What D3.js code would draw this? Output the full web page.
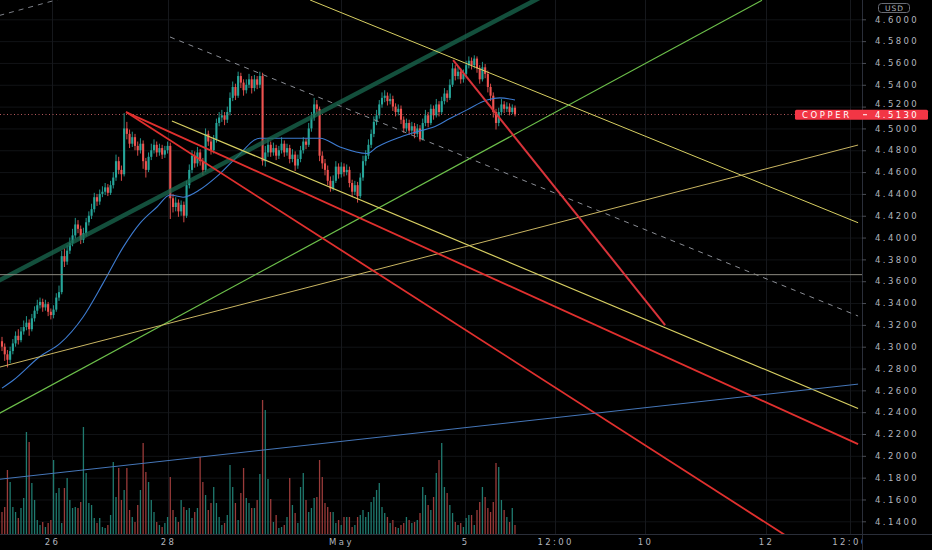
<!DOCTYPE html>
<html><head><meta charset="utf-8">
<script src="https://cdn.jsdelivr.net/npm/d3@7"></script>
<style>
html,body{margin:0;padding:0;background:#000;}
svg{display:block;}
text{font-family:"DejaVu Sans",sans-serif;}
</style></head><body>
<svg id="chart" width="932" height="550"></svg>
<script>
// ---------- data ----------
const opens=[
4.305,4.300,4.293,4.288,4.296,4.303,4.310,4.306,4.314,4.318,
4.322,4.316,4.326,4.333,4.338,4.341,4.336,4.339,4.332,4.329,
4.334,4.345,4.350,4.383,4.378,4.388,4.395,4.402,4.412,4.408,
4.398,4.404,4.414,4.420,4.426,4.437,4.433,4.440,4.442,4.446,
4.441,4.448,4.455,4.470,4.462,4.458,4.500,4.495,4.486,4.492,
4.484,4.480,4.486,4.470,4.462,4.474,4.480,4.485,4.478,4.482,
4.476,4.480,4.484,4.436,4.428,4.432,4.424,4.430,4.420,4.448,
4.462,4.475,4.468,4.478,4.470,4.462,4.495,4.488,4.480,4.490,
4.505,4.510,4.512,4.508,4.515,4.528,4.538,4.530,4.548,4.542,
4.535,4.540,4.545,4.537,4.545,4.540,4.548,4.470,4.478,4.485,
4.478,4.482,4.475,4.480,4.486,4.478,4.482,4.472,4.476,4.466,
4.472,4.480,4.488,4.485,4.500,4.510,4.522,4.518,4.475,4.468,
4.462,4.452,4.445,4.452,4.465,4.458,4.465,4.460,4.462,4.450,
4.442,4.448,4.438,4.455,4.470,4.475,4.485,4.495,4.506,4.512,
4.522,4.528,4.530,4.525,4.527,4.520,4.515,4.518,4.508,4.500,
4.505,4.498,4.502,4.495,4.500,4.490,4.505,4.512,4.505,4.518,
4.512,4.522,4.515,4.525,4.532,4.528,4.540,4.555,4.548,4.552,
4.545,4.550,4.558,4.562,4.558,4.564,4.555,4.545,4.556,4.550,
4.538,4.530,4.515,4.505,4.515,4.522,4.518,4.520,4.515,4.519];
const highs=[
4.309,4.303,4.297,4.300,4.307,4.314,4.316,4.318,4.324,4.328,
4.325,4.330,4.337,4.343,4.345,4.344,4.343,4.341,4.335,4.338,
4.349,4.356,4.388,4.390,4.393,4.400,4.408,4.418,4.416,4.411,
4.409,4.418,4.424,4.431,4.441,4.440,4.444,4.447,4.450,4.449,
4.452,4.460,4.476,4.474,4.466,4.514,4.506,4.499,4.497,4.495,
4.488,4.491,4.489,4.473,4.478,4.486,4.490,4.488,4.486,4.485,
4.484,4.488,4.487,4.440,4.437,4.435,4.434,4.433,4.452,4.467,
4.480,4.479,4.483,4.481,4.473,4.500,4.498,4.491,4.494,4.509,
4.515,4.517,4.515,4.520,4.533,4.543,4.541,4.552,4.551,4.545,
4.545,4.550,4.548,4.549,4.548,4.552,4.551,4.484,4.490,4.488,
4.487,4.485,4.484,4.492,4.489,4.486,4.485,4.481,4.479,4.476,
4.484,4.492,4.491,4.505,4.515,4.528,4.526,4.520,4.479,4.472,
4.466,4.456,4.457,4.470,4.468,4.469,4.468,4.467,4.465,4.453,
4.452,4.451,4.459,4.475,4.480,4.490,4.499,4.511,4.517,4.526,
4.533,4.535,4.533,4.532,4.530,4.523,4.522,4.521,4.511,4.509,
4.508,4.506,4.505,4.504,4.503,4.509,4.517,4.515,4.522,4.521,
4.527,4.525,4.529,4.537,4.535,4.545,4.560,4.558,4.557,4.555,
4.554,4.562,4.566,4.565,4.567,4.566,4.558,4.561,4.559,4.553,
4.541,4.533,4.518,4.519,4.527,4.525,4.524,4.523,4.522,4.521];
const lows=[
4.296,4.287,4.281,4.285,4.293,4.300,4.302,4.304,4.311,4.315,
4.310,4.314,4.323,4.330,4.335,4.332,4.333,4.328,4.325,4.326,
4.332,4.342,4.348,4.373,4.375,4.385,4.392,4.399,4.404,4.394,
4.395,4.401,4.411,4.417,4.423,4.429,4.430,4.437,4.439,4.438,
4.439,4.445,4.452,4.458,4.452,4.456,4.490,4.482,4.483,4.480,
4.475,4.477,4.463,4.455,4.460,4.471,4.477,4.474,4.475,4.472,
4.473,4.477,4.417,4.423,4.424,4.419,4.420,4.414,4.418,4.445,
4.459,4.464,4.465,4.466,4.457,4.460,4.484,4.476,4.477,4.487,
4.502,4.506,4.503,4.505,4.512,4.525,4.526,4.528,4.537,4.530,
4.532,4.537,4.532,4.534,4.536,4.537,4.466,4.465,4.474,4.474,
4.475,4.471,4.472,4.477,4.474,4.475,4.468,4.469,4.461,4.463,
4.469,4.477,4.481,4.483,4.497,4.507,4.513,4.470,4.463,4.457,
4.448,4.442,4.443,4.450,4.454,4.455,4.456,4.457,4.446,4.437,
4.439,4.432,4.436,4.452,4.466,4.472,4.482,4.492,4.503,4.509,
4.519,4.524,4.521,4.522,4.516,4.511,4.512,4.504,4.496,4.497,
4.494,4.495,4.491,4.492,4.488,4.489,4.502,4.501,4.503,4.508,
4.510,4.511,4.513,4.522,4.524,4.526,4.538,4.544,4.545,4.541,
4.542,4.547,4.555,4.554,4.555,4.551,4.541,4.543,4.546,4.533,
4.525,4.510,4.499,4.502,4.512,4.514,4.515,4.512,4.513,4.511];
const closes=[
4.300,4.293,4.288,4.296,4.303,4.310,4.306,4.314,4.318,4.322,
4.316,4.326,4.333,4.338,4.341,4.336,4.339,4.332,4.329,4.334,
4.345,4.350,4.383,4.378,4.388,4.395,4.402,4.412,4.408,4.398,
4.404,4.414,4.420,4.426,4.437,4.433,4.440,4.442,4.446,4.441,
4.448,4.455,4.470,4.462,4.458,4.500,4.495,4.486,4.492,4.484,
4.480,4.486,4.470,4.462,4.474,4.480,4.485,4.478,4.482,4.476,
4.480,4.484,4.436,4.428,4.432,4.424,4.430,4.420,4.448,4.462,
4.475,4.468,4.478,4.470,4.462,4.495,4.488,4.480,4.490,4.505,
4.510,4.512,4.508,4.515,4.528,4.538,4.530,4.548,4.542,4.535,
4.540,4.545,4.537,4.545,4.540,4.548,4.470,4.478,4.485,4.478,
4.482,4.475,4.480,4.486,4.478,4.482,4.472,4.476,4.466,4.472,
4.480,4.488,4.485,4.500,4.510,4.522,4.518,4.475,4.468,4.462,
4.452,4.445,4.452,4.465,4.458,4.465,4.460,4.462,4.450,4.442,
4.448,4.438,4.455,4.470,4.475,4.485,4.495,4.506,4.512,4.522,
4.528,4.530,4.525,4.527,4.520,4.515,4.518,4.508,4.500,4.505,
4.498,4.502,4.495,4.500,4.490,4.505,4.512,4.505,4.518,4.512,
4.522,4.515,4.525,4.532,4.528,4.540,4.555,4.548,4.552,4.545,
4.550,4.558,4.562,4.558,4.564,4.555,4.545,4.556,4.550,4.538,
4.530,4.515,4.505,4.515,4.522,4.518,4.520,4.515,4.519,4.513];
const volumes=[
22,27,64,52,27,22,16,26,36,102,
92,51,34,14,9,12,7,11,14,74,
41,46,11,46,56,34,26,27,26,32,
107,61,31,29,16,11,16,7,6,9,
19,72,37,66,34,44,66,24,17,12,
29,44,91,62,52,34,22,12,9,7,
11,17,57,24,17,12,34,27,24,26,
16,22,26,77,52,39,24,31,47,31,
17,9,11,19,69,47,31,14,41,66,
36,31,26,26,34,60,134,124,55,35,
12,19,6,7,9,17,56,29,21,11,
47,61,34,22,26,36,37,74,57,31,
27,22,22,11,14,9,17,17,17,7,
9,17,19,24,17,22,32,37,44,51,
27,21,17,11,14,7,6,9,11,17,
14,11,12,14,21,47,39,29,24,37,
61,74,91,47,41,29,21,12,9,11,
7,16,19,19,9,24,32,47,37,26,
22,32,71,67,34,24,17,12,26,9];
const maIndex=[0,4,14,21.4,29.8,37.2,44.6,50.8,57.1,61.9,66.7,73,79.2,86.6,95,102.4,110,117.2,124.5,134.5,138.2,146.6,152.9,158.8,165,171.3,178.7,183.4,189];
const maValues=[4.262,4.269,4.291,4.303,4.327,4.358,4.391,4.413,4.428,4.439,4.437,4.444,4.456,4.474,4.491,4.491,4.491,4.491,4.483,4.477,4.483,4.492,4.497,4.501,4.509,4.517,4.526,4.528,4.526];
const priceTicks=[4.14,4.16,4.18,4.20,4.22,4.24,4.26,4.28,4.30,4.32,4.34,4.36,4.38,4.40,4.42,4.44,4.46,4.48,4.50,4.52,4.54,4.56,4.58,4.60];
const timeTickIndex=[18.4,61.2,124.9,170.6,203.8,236.9,281.5,312.4];
const timeTickLabels=["26","28","May","5","12:00","10","12","12:00"];
const symbol="COPPER", lastPrice=4.5130, currency="USD";
// drawings in (bar index, price)
const drawingNames=["dashTop","dashMid","channel","level","yellowTop","lime","olive","yellowDown","redA","redB","redC","blue"];
const drawingStartIdx=[-1,61.9,-5,-5,113.5,-5,-5,62.6,45.7,45.7,166.2,-5];
const drawingStartPrice=[4.6035,4.5838,4.3555,4.366,4.6177,4.2335,4.2786,4.5068,4.515,4.515,4.5627,4.1774];
const drawingEndIdx=[30,315.4,200,320,315.4,280,315.4,315.4,315.4,300,244.3,315.4];
const drawingEndPrice=[4.6245,4.3281,4.6222,4.366,4.4136,4.6174,4.4848,4.2434,4.2107,4.109,4.3198,4.2657];

// ---------- styles ----------
const drawStyle={
  dashTop:{c:"#7d8088",w:1,d:"5,5",o:1},
  dashMid:{c:"#8a8d94",w:1,d:"5,5",o:1},
  channel:{c:"#1a6a50",w:4.5,d:null,o:0.75},
  level:{c:"#8c8a80",w:1,d:null,o:1},
  yellowTop:{c:"#d8cf62",w:1,d:null,o:1},
  lime:{c:"#6cbf4a",w:1.2,d:null,o:1},
  olive:{c:"#c9b562",w:1,d:null,o:1},
  yellowDown:{c:"#d8cf62",w:1.2,d:null,o:1},
  redA:{c:"#e0302e",w:1.8,d:null,o:1},
  redB:{c:"#e0302e",w:1.8,d:null,o:1},
  redC:{c:"#d8333a",w:2,d:null,o:1},
  blue:{c:"#4576b8",w:1,d:null,o:1}
};
const UP="#26a69a", DOWN="#ef5350";
const AXIS_FONT="8.5px", AXIS_LS="2.4px";

const svg=d3.select("#chart");
const W=932,H=550,paneR=862,paneB=534;
svg.append("rect").attr("width",W).attr("height",H).attr("fill","#000");

const x=d3.scaleLinear().domain([0,189]).range([2,515]);
const y=d3.scaleLinear().domain([4.14,4.60]).range([521.3,19.3]);
const v=d3.scaleLinear().domain([0,134]).range([paneB,400]);

const defs=svg.append("defs");
defs.append("clipPath").attr("id","pane").append("rect").attr("x",0).attr("y",0).attr("width",paneR).attr("height",paneB);
defs.append("clipPath").attr("id","taxis").append("rect").attr("x",0).attr("y",paneB).attr("width",paneR).attr("height",H-paneB);

const pane=svg.append("g").attr("clip-path","url(#pane)");
// grid
pane.append("g").selectAll("line").data(priceTicks).join("line")
  .attr("x1",0).attr("x2",paneR).attr("y1",d=>y(d)+0.5).attr("y2",d=>y(d)+0.5)
  .attr("stroke","#111316").attr("stroke-width",1);
pane.append("g").selectAll("line").data(timeTickIndex).join("line")
  .attr("x1",d=>Math.round(x(d))+0.5).attr("x2",d=>Math.round(x(d))+0.5).attr("y1",0).attr("y2",paneB)
  .attr("stroke","#16181c").attr("stroke-width",1);

const idx=d3.range(closes.length);
// volume
pane.append("g").selectAll("line").data(idx).join("line")
  .attr("x1",i=>x(i)).attr("x2",i=>x(i)).attr("y1",paneB).attr("y2",i=>v(volumes[i]))
  .attr("stroke",i=>closes[i]>=opens[i]?"#1f7a6f":"#9a3b3a").attr("stroke-width",1.3);

// candles
const cg=pane.append("g");
cg.selectAll("line").data(idx).join("line")
  .attr("x1",i=>x(i)).attr("x2",i=>x(i)).attr("y1",i=>y(highs[i])).attr("y2",i=>y(lows[i]))
  .attr("stroke",i=>closes[i]>=opens[i]?UP:DOWN).attr("stroke-width",0.9);
cg.selectAll("rect").data(idx).join("rect")
  .attr("x",i=>x(i)-1.05).attr("width",2.1)
  .attr("y",i=>y(Math.max(opens[i],closes[i])))
  .attr("height",i=>Math.max(1,Math.abs(y(opens[i])-y(closes[i]))))
  .attr("fill",i=>closes[i]>=opens[i]?UP:DOWN);

// moving average
pane.append("path").datum(maIndex.map((d,k)=>[d,maValues[k]]))
  .attr("d",d3.line().x(d=>x(d[0])).y(d=>y(d[1])).curve(d3.curveMonotoneX))
  .attr("fill","none").attr("stroke","#3d7bd0").attr("stroke-width",1.1);

// last price dotted line
pane.append("line").attr("x1",0).attr("x2",paneR).attr("y1",Math.round(y(lastPrice))+0.5).attr("y2",Math.round(y(lastPrice))+0.5)
  .attr("stroke","#b4585c").attr("stroke-width",1).attr("stroke-dasharray","1,2.5");

// drawings
pane.append("g").selectAll("line").data(drawingNames).join("line")
  .attr("x1",(n,k)=>x(drawingStartIdx[k])).attr("y1",(n,k)=>y(drawingStartPrice[k]))
  .attr("x2",(n,k)=>x(drawingEndIdx[k])).attr("y2",(n,k)=>y(drawingEndPrice[k]))
  .attr("stroke",n=>drawStyle[n].c).attr("stroke-width",n=>drawStyle[n].w)
  .attr("stroke-opacity",n=>drawStyle[n].o)
  .attr("stroke-dasharray",n=>drawStyle[n].d).attr("stroke-linecap","butt");

// separators
svg.append("line").attr("x1",paneR+0.5).attr("x2",paneR+0.5).attr("y1",0).attr("y2",H).attr("stroke","#2a2e39");
svg.append("line").attr("x1",0).attr("x2",W).attr("y1",paneB+0.5).attr("y2",paneB+0.5).attr("stroke","#2a2e39");

// price axis
const ya=svg.append("g").attr("transform",`translate(${paneR},0)`)
  .call(d3.axisRight(y).tickValues(priceTicks).tickFormat(d3.format(".4f")).tickSize(4).tickPadding(9));
ya.select(".domain").remove();
ya.selectAll(".tick line").attr("stroke","#4a4d55");
ya.selectAll(".tick text").attr("fill","#b2b5be").style("font-size",AXIS_FONT).style("letter-spacing",AXIS_LS)
  .style("font-family","'DejaVu Sans', sans-serif")
  .attr("dy",d=>Math.abs(d-lastPrice)<0.012?"-0.05em":"0.32em");

// time axis
const xa=svg.append("g").attr("clip-path","url(#taxis)").append("g").attr("transform",`translate(0,${paneB})`)
  .call(d3.axisBottom(x).tickValues(timeTickIndex).tickFormat((d,k)=>timeTickLabels[k]).tickSize(0).tickPadding(5));
xa.select(".domain").remove();
xa.selectAll(".tick text").attr("fill","#b2b5be").style("font-size",AXIS_FONT).style("letter-spacing",AXIS_LS)
  .style("font-family","'DejaVu Sans', sans-serif");

// USD badge
svg.append("rect").attr("x",878.5).attr("y",3.5).attr("width",31).attr("height",9).attr("rx",3)
  .attr("fill","none").attr("stroke","#6a6d76");
svg.append("text").attr("x",894.5).attr("y",11).attr("text-anchor","middle").attr("fill","#b2b5be")
  .style("font-size","7.5px").style("letter-spacing","1px").text(currency);

// last price label
const ly=y(lastPrice);
svg.append("rect").attr("x",795).attr("y",ly-4.6).attr("width",133).attr("height",10.2).attr("rx",1.5).attr("fill","#f23645");
svg.append("text").attr("x",802).attr("y",ly+3.5).attr("fill","#fff").style("font-size",AXIS_FONT).style("letter-spacing","2.6px").text(symbol);
svg.append("line").attr("x1",paneR+1).attr("x2",paneR+5).attr("y1",ly+0.5).attr("y2",ly+0.5).attr("stroke","#fff");
svg.append("text").attr("x",paneR+13).attr("y",ly+3.5).attr("fill","#fff").style("font-size",AXIS_FONT).style("letter-spacing",AXIS_LS)
  .text(d3.format(".4f")(lastPrice));
</script>
</body></html>
